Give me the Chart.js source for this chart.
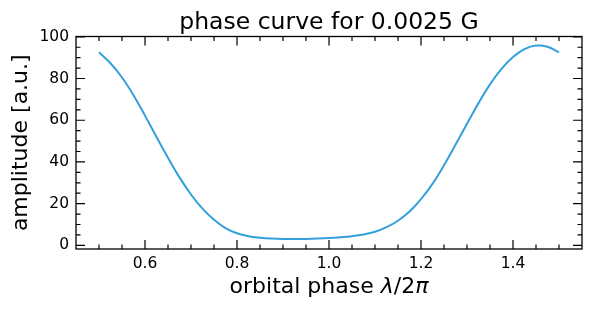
<!DOCTYPE html>
<html><head><meta charset="utf-8">
<script src="https://cdn.jsdelivr.net/npm/chart.js@4/dist/chart.umd.min.js"></script>
<style>html,body{margin:0;padding:0;background:#fff;}</style>
</head><body>
<canvas id="c" width="592" height="311" style="width:592px;height:311px;display:block"></canvas>
<script>
const phase = [0.5,0.525,0.55,0.575,0.6,0.625,0.65,0.675,0.7,0.725,0.75,0.775,0.8,0.825,0.85,0.875,0.9,0.925,0.95,0.975,1.0,1.025,1.05,1.075,1.1,1.125,1.15,1.175,1.2,1.225,1.25,1.275,1.3,1.325,1.35,1.375,1.4,1.425,1.45,1.475,1.5];
const amplitude = [92.6,87.3,80.5,72.0,62.2,52.0,42.0,32.6,24.4,17.6,12.3,8.3,5.8,4.4,3.7,3.3,3.1,3.05,3.1,3.25,3.5,3.9,4.4,5.2,6.5,8.7,11.8,16.2,22.2,29.5,38.4,48.2,58.3,68.2,77.2,84.6,90.3,94.1,95.8,95.2,92.6];
const xMajorTicks = [0.6,0.8,1.0,1.2,1.4];
const xMinorTicks = [0.5,0.55,0.65,0.7,0.75,0.85,0.9,0.95,1.05,1.1,1.15,1.25,1.3,1.35,1.45,1.5];
const yMajorTicks = [0,20,40,60,80,100];
const yMinorTicks = [5,10,15,25,30,35,45,50,55,65,70,75,85,90,95];
const titleText = 'phase curve for 0.0025 G';
const yLabelText = 'amplitude [a.u.]';
const xLabelParts = [['orbital phase ', false], ['λ', true], ['/2', false], ['π', true]];

const FONT = "'DejaVu Sans', sans-serif";

const frame = {
  id: 'frame',
  afterDatasetsDraw(chart) {
    const {ctx, chartArea: a, scales: {x, y}} = chart;
    ctx.save();
    ctx.strokeStyle = '#000';
    ctx.lineWidth = 1.2;
    const MAJ = 9, MIN = 4.5;
    ctx.beginPath();
    const vx = (v, len) => { const p = x.getPixelForValue(v); ctx.moveTo(p, a.bottom); ctx.lineTo(p, a.bottom - len); ctx.moveTo(p, a.top); ctx.lineTo(p, a.top + len); };
    const hy = (v, len) => { const p = y.getPixelForValue(v); ctx.moveTo(a.left, p); ctx.lineTo(a.left + len, p); ctx.moveTo(a.right, p); ctx.lineTo(a.right - len, p); };
    xMajorTicks.forEach(v => vx(v, MAJ));
    xMinorTicks.forEach(v => vx(v, MIN));
    yMajorTicks.forEach(v => hy(v, MAJ));
    yMinorTicks.forEach(v => hy(v, MIN));
    ctx.stroke();
    ctx.lineWidth = 1.3;
    ctx.strokeRect(a.left, a.top, a.right - a.left, a.bottom - a.top);
    // title
    ctx.fillStyle = '#000';
    ctx.font = '23.5px ' + FONT;
    ctx.textAlign = 'center';
    ctx.textBaseline = 'alphabetic';
    const cx = (a.left + a.right) / 2;
    ctx.fillText(titleText, cx, 28.5);
    // x label
    let total = 0;
    const widths = xLabelParts.map(([t, it]) => { ctx.font = (it ? 'italic ' : '') + '22px ' + FONT; const w = ctx.measureText(t).width; total += w; return w; });
    let xx = cx - total / 2;
    ctx.textAlign = 'left';
    xLabelParts.forEach(([t, it], i) => { ctx.font = (it ? 'italic ' : '') + '22px ' + FONT; ctx.fillText(t, xx, 293); xx += widths[i]; });
    // y label
    ctx.translate(27, (a.top + a.bottom) / 2);
    ctx.rotate(-Math.PI / 2);
    ctx.font = '22px ' + FONT;
    ctx.textAlign = 'center';
    ctx.fillText(yLabelText, 0, 0);
    ctx.restore();
  }
};

new Chart(document.getElementById('c'), {
  type: 'line',
  data: {
    datasets: [{
      data: phase.map((p, i) => ({x: p, y: amplitude[i]})),
      borderColor: '#34a0db',
      borderWidth: 2,
      pointRadius: 0,
      tension: 0.4,
      fill: false
    }]
  },
  options: {
    responsive: false,
    animation: false,
    devicePixelRatio: 1,
    layout: {padding: {left: 0, right: 10, top: 36.5, bottom: 0}},
    plugins: {legend: {display: false}, title: {display: false}, tooltip: {enabled: false}},
    scales: {
      x: {
        type: 'linear', min: 0.45, max: 1.55,
        afterBuildTicks: s => { s.ticks = xMajorTicks.map(v => ({value: v})); },
        afterFit: s => { s.height = 62; },
        grid: {display: false, drawTicks: false},
        border: {display: false},
        ticks: {padding: 6, color: '#000', font: {family: FONT, size: 15.5}, callback: v => v.toFixed(1), maxRotation: 0, autoSkip: false}
      },
      y: {
        type: 'linear', min: -1.75, max: 100.15,
        afterBuildTicks: s => { s.ticks = yMajorTicks.map(v => ({value: v})); },
        afterFit: s => { s.width = 76; },
        grid: {display: false, drawTicks: false},
        border: {display: false},
        ticks: {padding: 7, color: '#000', font: {family: FONT, size: 15.5}, callback: v => String(v), autoSkip: false}
      }
    }
  },
  plugins: [frame]
});
</script>
</body></html>
